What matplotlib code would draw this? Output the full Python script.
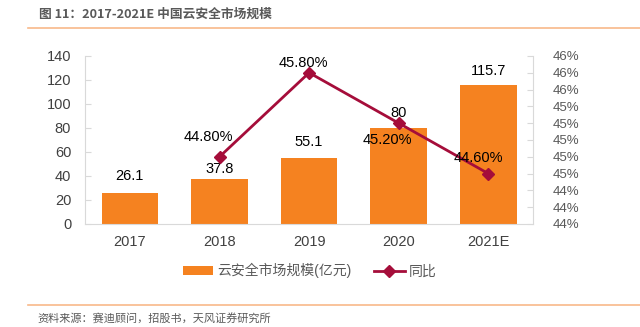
import numpy as np
import matplotlib
matplotlib.use("Agg")
import matplotlib.pyplot as plt
from matplotlib.lines import Line2D

plt.rcParams['font.family'] = ['Liberation Sans', 'Noto Sans CJK SC']

years = ['2017', '2018', '2019', '2020', '2021E']
market = [26.1, 37.8, 55.1, 80, 115.7]
yoy_years = ['2018', '2019', '2020', '2021E']
yoy = [44.80, 45.80, 45.20, 44.60]
yoy_labels = ['44.80%', '45.80%', '45.20%', '44.60%']

bar_color = '#F58220'
line_color = '#A50D3A'
text_gray = '#404040'
axis_gray = '#D9D9D9'

fig = plt.figure(figsize=(6.4, 3.27), dpi=100)

# title + separator lines
fig.text(0.061, 0.955, '图 11：2017-2021E 中国云安全市场规模', fontsize=9.2, fontweight='bold',
         color='#595959', family=['Noto Sans CJK SC', 'DejaVu Sans'], va='center')
fig.add_artist(Line2D([0.044, 1.0], [0.913, 0.913], color='#F8B98A', lw=1.2))
fig.add_artist(Line2D([0.044, 1.0], [0.067, 0.067], color='#F8B98A', lw=1.2))
fig.text(0.058, 0.025, '资料来源：赛迪顾问，招股书，天风证券研究所', fontsize=8,
         color='#595959', family=['Noto Sans CJK SC', 'DejaVu Sans'], va='center')

ax = fig.add_axes([0.133, 0.315, 0.70, 0.514])
x = np.arange(len(years))
bars = ax.bar(x, market, width=0.63, color=bar_color, label='云安全市场规模(亿元)', zorder=2)
ax.set_xlim(-0.5, len(years) - 0.5)
ax.set_ylim(0, 140)
ax.set_yticks(np.arange(0, 141, 20))
ax.set_xticks(x)
ax.set_xticklabels(years)
for s in ['top', 'right']:
    ax.spines[s].set_visible(False)
for s in ['left', 'bottom']:
    ax.spines[s].set_color(axis_gray)
ax.tick_params(axis='y', direction='in', length=4, color=axis_gray, labelsize=10.5,
               labelcolor=text_gray, pad=10)
ax.tick_params(axis='x', length=0, labelsize=10.5, labelcolor=text_gray, pad=8)

bar_offsets = [7, 2, 6.5, 6, 5]
for xi, v, off in zip(x, market, bar_offsets):
    ax.annotate(f'{v:g}', (xi, v), xytext=(0, off), textcoords='offset points',
                ha='center', va='bottom', fontsize=10.5, color='black')

ax2 = ax.twinx()
xi2 = [years.index(y) for y in yoy_years]
ax2.plot(xi2, yoy, color=line_color, lw=2, marker='D', markersize=6, label='同比', zorder=3)
ax2.set_ylim(44.0, 46.0)
ticks = np.linspace(44.0, 46.0, 11)
ax2.set_yticks(ticks)
ax2.set_yticklabels([f'{t:.0f}%' for t in ticks])
for s in ['top', 'left', 'bottom']:
    ax2.spines[s].set_visible(False)
ax2.spines['right'].set_color(axis_gray)
ax2.tick_params(axis='y', direction='in', length=4, color=axis_gray, labelsize=9.5,
                labelcolor='#595959', pad=14)

line_offsets = [(-8, 14), (-4, 7), (-8, -12), (-7, 11)]
for xv, v, lab, off in zip(xi2, yoy, yoy_labels, line_offsets):
    ax2.annotate(lab, (xv, v), xytext=off, textcoords='offset points',
                 ha='center', va='center', fontsize=10.5, color='black')

handles = [bars, Line2D([], [], color=line_color, lw=2, marker='D', markersize=6)]
fig.legend(handles, ['云安全市场规模(亿元)', '同比'], loc='center', bbox_to_anchor=(0.484, 0.172),
           ncol=2, frameon=False, fontsize=10, labelcolor='#595959', handlelength=2.2,
           columnspacing=1.6, handletextpad=0.3)

fig.savefig('out.png', dpi=100)
